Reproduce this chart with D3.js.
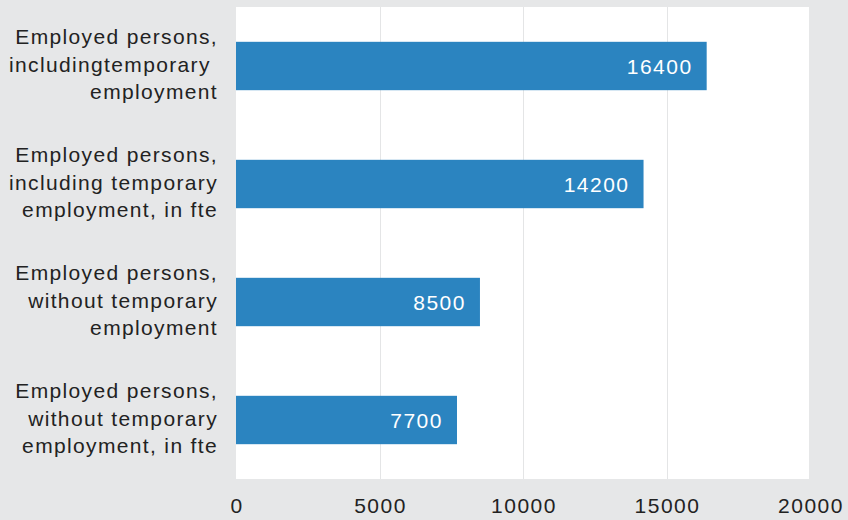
<!DOCTYPE html>
<html><head><meta charset="utf-8">
<script src="https://cdn.jsdelivr.net/npm/d3@7"></script>
<style>
html,body{margin:0;padding:0;background:#e6e7e8;}
svg{display:block;font-family:"Liberation Sans",Arial,sans-serif;}
</style></head>
<body><svg id="c" width="848" height="520"></svg>
<script>
const categories = [
  ["Employed persons,", "includingtemporary ", "employment"],
  ["Employed persons,", "including temporary", "employment, in fte"],
  ["Employed persons,", "without temporary", "employment"],
  ["Employed persons,", "without temporary", "employment, in fte"]
];
const values = [16400, 14200, 8500, 7700];
const xTicks = [0, 5000, 10000, 15000, 20000];

const svg = d3.select("#c");
const L = 236, R = 810, T = 7, B = 479;
svg.append("rect").attr("width", 848).attr("height", 520).attr("fill", "#e6e7e8");
svg.append("rect").attr("x", L).attr("y", T).attr("width", R - 1 - L).attr("height", B - T).attr("fill", "#ffffff");

const x = d3.scaleLinear().domain([0, 20000]).range([L, R]);
const y = d3.scaleBand().domain(d3.range(categories.length)).range([T, B]).paddingInner(0.59).paddingOuter(0.295);

svg.append("g").selectAll("line").data(xTicks.slice(1, -1)).join("line")
  .attr("x1", d => Math.round(x(d)) + 0.5).attr("x2", d => Math.round(x(d)) + 0.5).attr("y1", T).attr("y2", B)
  .attr("stroke", "#e4e5e6").attr("stroke-width", 1);

svg.append("g").selectAll("rect").data(values).join("rect")
  .attr("x", x(0)).attr("y", (d, i) => y(i)).attr("width", d => x(d) - x(0)).attr("height", y.bandwidth())
  .attr("fill", "#2b84c0");

svg.append("g").selectAll("text").data(values).join("text")
  .attr("x", d => x(d) - 14).attr("y", (d, i) => y(i) + y.bandwidth() / 2)
  .attr("dy", "0.36em").attr("text-anchor", "end").attr("fill", "#ffffff")
  .attr("font-size", 21).attr("letter-spacing", "1.5px").text(d => d);

const lab = svg.append("g").selectAll("text").data(categories).join("text")
  .attr("text-anchor", "end").attr("fill", "#222").attr("font-size", 21).attr("letter-spacing", "1.35px");
lab.each(function(lines, i) {
  const cy = y(i) + y.bandwidth() / 2 - 2;
  const lh = 27.5;
  d3.select(this).selectAll("tspan").data(lines).join("tspan")
    .attr("x", 218).attr("y", (d, j) => cy + (j - 1) * lh).attr("dy", "0.36em").text(d => d);
});

svg.append("g").selectAll("text").data(xTicks).join("text")
  .attr("x", d => x(d) + 1).attr("y", 505).attr("dy", "0.36em").attr("text-anchor", "middle")
  .attr("fill", "#222").attr("font-size", 21).attr("letter-spacing", "1.5px").text(d => d);
</script></body></html>
